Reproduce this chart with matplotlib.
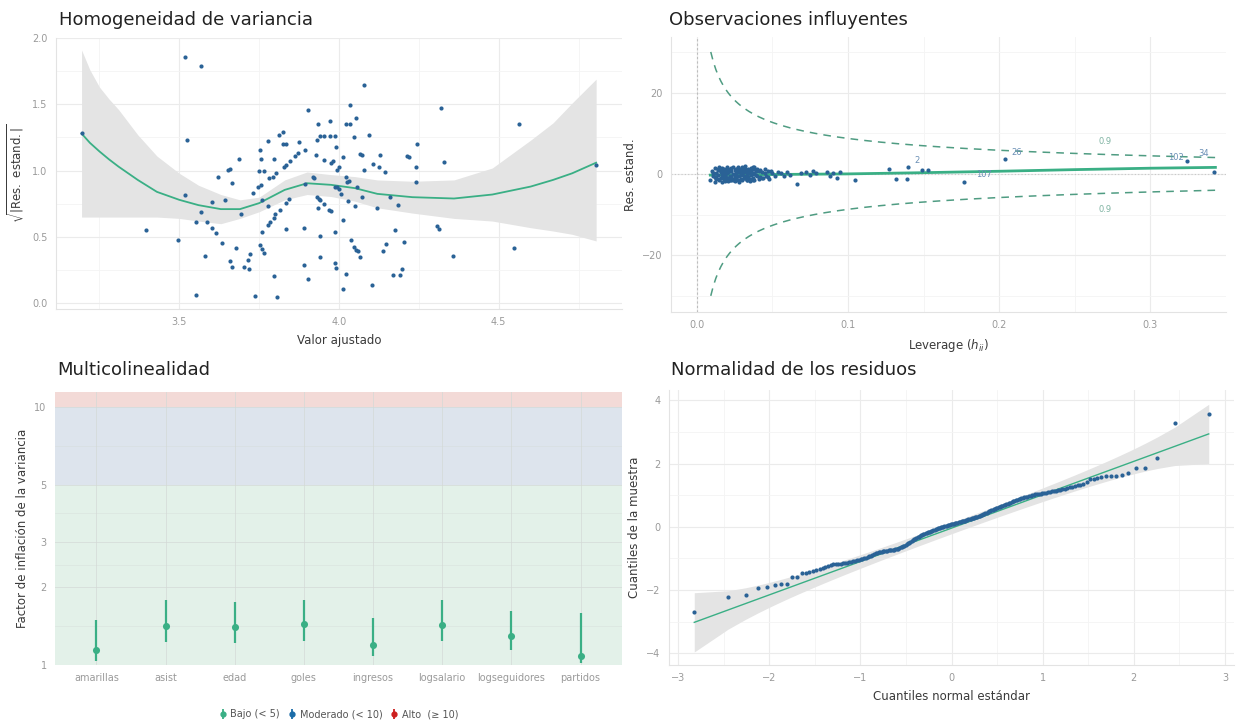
import numpy as np
import matplotlib
matplotlib.use('Agg')
import matplotlib.pyplot as plt
from statistics import NormalDist

W, H = 1236, 723
BLUE = '#2a6296'
GREEN = '#3aaf85'
TICK = '#9a9a9a'
LAB = '#3a3a3a'

# ---- panel 1: homogeneidad de varianza ----
fitted = [3.518, 3.567, 3.524, 3.752, 3.777, 3.812, 3.824, 3.826, 3.834, 3.876,
          3.756, 3.797, 3.686, 3.654, 3.660, 3.622, 3.665, 3.750, 3.766, 3.731,
          3.745, 3.755, 3.782, 3.793, 3.803, 3.827, 3.835, 3.846, 3.862, 3.872,
          3.518, 3.603, 3.644, 3.567, 3.553, 3.587, 3.603, 3.615, 3.633, 3.694,
          3.759, 3.777, 3.801, 3.795, 3.784, 3.778, 3.759, 3.833, 3.816, 3.833,
          3.844, 3.495, 3.580, 3.678, 3.720, 3.716, 3.660, 3.665, 3.702, 3.718,
          3.752, 3.759, 3.766, 3.796, 3.551, 3.736, 3.806,
          4.078, 3.904, 4.319, 4.033, 4.053, 4.023, 4.034, 3.934, 3.973, 3.941,
          3.952, 3.971, 3.989, 3.931, 4.047, 4.094, 3.894, 3.992, 4.245, 3.929,
          4.014, 4.067, 4.072, 4.129, 4.213, 4.220, 3.954, 3.976, 3.982, 3.994,
          4.000, 4.078, 4.107, 4.125, 4.144, 4.240, 4.329, 3.918, 3.923, 4.021,
          4.031, 4.024, 4.240, 3.894, 3.986, 3.994, 4.001, 4.056, 3.931, 3.936,
          3.941, 4.007, 4.071, 4.159, 3.933, 3.969, 3.976, 3.952, 4.029, 4.050,
          4.120, 4.184, 3.891, 4.014, 3.941, 3.987, 4.175, 4.307, 4.314, 4.039,
          4.048, 4.053, 4.058, 4.067, 4.139, 4.146, 4.202, 4.356, 3.941, 3.891,
          3.986, 3.990, 3.904, 4.021, 4.103, 4.012, 4.168, 4.191, 4.197,
          3.395, 3.194, 4.805, 4.565, 4.549]
sqrt_res = [1.855, 1.790, 1.230, 1.155, 1.225, 1.265, 1.290, 1.200, 1.200, 1.215,
            1.085, 1.090, 1.085, 1.005, 1.015, 0.950, 0.905, 0.995, 0.995, 0.835,
            0.880, 0.890, 0.945, 0.950, 0.985, 1.030, 1.040, 1.070, 1.110, 1.130,
            0.820, 0.760, 0.780, 0.690, 0.610, 0.615, 0.570, 0.530, 0.455, 0.670,
            0.775, 0.735, 0.670, 0.640, 0.610, 0.590, 0.535, 0.560, 0.705, 0.755,
            0.790, 0.480, 0.355, 0.418, 0.370, 0.330, 0.318, 0.275, 0.275, 0.255,
            0.440, 0.410, 0.378, 0.205, 0.063, 0.055, 0.050,
            1.643, 1.460, 1.470, 1.495, 1.395, 1.350, 1.350, 1.350, 1.375, 1.260,
            1.260, 1.260, 1.260, 1.230, 1.255, 1.265, 1.155, 1.180, 1.200, 1.120,
            1.100, 1.125, 1.115, 1.115, 1.110, 1.100, 1.080, 1.055, 1.070, 1.005,
            1.025, 1.005, 1.050, 1.025, 0.990, 1.025, 1.065, 0.955, 0.945, 0.955,
            0.925, 0.918, 0.915, 0.900, 0.880, 0.875, 0.860, 0.880, 0.805, 0.790,
            0.775, 0.825, 0.800, 0.805, 0.715, 0.705, 0.695, 0.750, 0.768, 0.730,
            0.718, 0.743, 0.568, 0.630, 0.510, 0.538, 0.550, 0.585, 0.560, 0.480,
            0.425, 0.405, 0.393, 0.348, 0.398, 0.450, 0.463, 0.360, 0.348, 0.290,
            0.305, 0.268, 0.180, 0.218, 0.135, 0.110, 0.210, 0.210, 0.255,
            0.553, 1.283, 1.044, 1.351, 0.415]
smooth_x = [3.194, 3.22, 3.25, 3.28, 3.31, 3.37, 3.43, 3.50, 3.56, 3.63, 3.69,
            3.75, 3.83, 3.90, 3.975, 4.05, 4.12, 4.23, 4.36, 4.48, 4.60, 4.67,
            4.73, 4.805]
smooth_y = [1.28, 1.21, 1.145, 1.085, 1.03, 0.93, 0.84, 0.78, 0.74, 0.71, 0.71,
            0.755, 0.855, 0.905, 0.893, 0.868, 0.825, 0.80, 0.79, 0.82, 0.88, 0.93,
            0.98, 1.06]
smooth_lo = [0.65, 0.65, 0.65, 0.65, 0.65, 0.65, 0.65, 0.64, 0.62, 0.60, 0.64,
             0.69, 0.78, 0.82, 0.805, 0.77, 0.72, 0.68, 0.64, 0.62, 0.57, 0.545,
             0.52, 0.47]
smooth_hi = [1.91, 1.76, 1.63, 1.54, 1.46, 1.27, 1.11, 0.98, 0.89, 0.82, 0.78,
             0.80, 0.93, 0.99, 0.97, 0.955, 0.93, 0.92, 0.93, 1.02, 1.23, 1.36,
             1.51, 1.69]

# ---- panel 2: observaciones influyentes ----
leverage = [0.009, 0.010, 0.011, 0.012, 0.012, 0.013, 0.013, 0.014, 0.014, 0.015,
            0.015, 0.016, 0.016, 0.017, 0.017, 0.018, 0.018, 0.018, 0.019, 0.019,
            0.020, 0.020, 0.020, 0.021, 0.021, 0.022, 0.022, 0.022, 0.023, 0.023,
            0.024, 0.024, 0.024, 0.025, 0.025, 0.026, 0.026, 0.026, 0.027, 0.027,
            0.028, 0.028, 0.028, 0.029, 0.029, 0.030, 0.030, 0.030, 0.031, 0.031,
            0.032, 0.032, 0.033, 0.033, 0.034, 0.034, 0.035, 0.035, 0.036, 0.036,
            0.037, 0.037, 0.038, 0.038, 0.039, 0.040, 0.040, 0.041, 0.042, 0.042,
            0.043, 0.044, 0.045, 0.046, 0.047, 0.048, 0.050, 0.052, 0.054, 0.056,
            0.058, 0.060, 0.062, 0.066, 0.069, 0.072, 0.075, 0.077, 0.079, 0.086,
            0.088, 0.090, 0.093, 0.095, 0.105,
            0.011, 0.012, 0.014, 0.015, 0.016, 0.017, 0.018, 0.019, 0.020, 0.021,
            0.022, 0.023, 0.024, 0.025, 0.026, 0.027, 0.028, 0.029, 0.030, 0.031,
            0.032, 0.033, 0.034, 0.035, 0.036, 0.037, 0.038, 0.039, 0.041, 0.043,
            0.045, 0.047, 0.049, 0.013, 0.017, 0.021, 0.025, 0.029, 0.033, 0.037,
            0.019, 0.023, 0.027, 0.031, 0.035, 0.015, 0.020, 0.026, 0.032, 0.038,
            0.127, 0.132, 0.139, 0.140, 0.149, 0.153, 0.177, 0.204, 0.324, 0.342]
std_res = [-1.5, 0.8, -0.6, 1.4, -1.9, 0.3, -1.2, 1.1, -0.2, 1.8,
           -1.6, 0.5, -0.9, 1.5, -2.0, 0.1, 1.2, -1.3, 0.7, -0.5,
           1.6, -1.1, 0.2, -1.8, 1.0, -0.4, 1.3, -1.5, 0.6, -0.8,
           1.7, -1.4, 0.0, 0.9, -1.7, 1.2, -0.3, -1.0, 1.5, 0.4,
           -1.9, 0.8, -0.6, 1.1, -1.2, 1.6, -0.1, -1.6, 0.5, 1.3,
           -0.9, 1.9, -1.4, 0.3, -0.7, 1.0, -1.8, 0.7, -0.2, 1.4,
           -1.1, 0.2, 1.7, -1.5, 0.6, -0.5, 1.2, -1.3, 0.9, -0.8,
           0.4, -1.0, 1.1, -0.4, 0.8, -1.2, 0.3, -0.6, 0.5, 0.2,
           -0.5, 0.4, -0.3, -2.5, 0.3, 0.5, -0.2, 0.6, 0.1, 0.4,
           -0.6, 0.2, -0.9, 0.5, -1.6,
           0.2, -0.7, 0.9, -1.3, 1.1, -0.1, 0.6, -1.7, 1.3, -0.9,
           0.7, 1.4, -1.2, -0.6, 0.4, -1.5, 1.0, -0.3, 0.9, -1.1,
           0.6, -0.4, 1.3, -1.3, 0.8, -1.6, 1.1, -0.2, 0.7, -0.9,
           0.3, -0.7, 0.6, -1.0, -0.4, 0.5, -1.2, 0.3, -1.6, 1.6,
           -0.3, -1.4, 1.8, -0.5, 0.2, 1.0, -0.9, -0.7, 1.2, 0.0,
           1.1, -1.15, -1.15, 1.8, 1.0, 1.0, -2.0, 3.6, 3.2, 0.4]
labels_h = [0.140, 0.204, 0.177, 0.324, 0.342]
labels_r = [1.8, 3.6, -2.0, 3.2, 0.4]
labels_txt = ['2', '26', '107', '102', '34']
labels_dx = [0.004, 0.004, 0.008, -0.012, -0.010]
labels_dy = [1.0, 1.0, 1.2, 0.2, 4.0]
lev_smooth_x = [0.009, 0.05, 0.10, 0.15, 0.20, 0.25, 0.30, 0.343]
lev_smooth_y = [-0.3, -0.15, 0.0, 0.3, 0.65, 1.05, 1.4, 1.6]
n_par = 9
cook_cut = 0.94

# ---- panel 3: multicolinealidad ----
terms = ['amarillas', 'asist', 'edad', 'goles', 'ingresos', 'logsalario',
         'logseguidores', 'partidos']
vif = [1.14, 1.42, 1.40, 1.44, 1.20, 1.43, 1.30, 1.08]
vif_lo = [1.04, 1.23, 1.22, 1.24, 1.08, 1.24, 1.14, 1.015]
vif_hi = [1.50, 1.78, 1.76, 1.79, 1.52, 1.78, 1.62, 1.59]

# ---- panel 4: normalidad (residuos ordenados) ----
resid_sorted = [
    -2.70, -2.22, -2.15, -1.94, -1.89, -1.85, -1.82, -1.80, -1.60, -1.58,
    -1.47, -1.45, -1.43, -1.40, -1.37, -1.32, -1.29, -1.26, -1.23, -1.21,
    -1.19, -1.18, -1.17, -1.16, -1.15, -1.14, -1.13, -1.12, -1.10, -1.08,
    -1.07, -1.06, -1.05, -1.03, -1.01, -0.99, -0.97, -0.95, -0.93, -0.91,
    -0.88, -0.86, -0.84, -0.82, -0.80, -0.79, -0.78, -0.77, -0.76, -0.755,
    -0.75, -0.745, -0.74, -0.735, -0.73, -0.72, -0.71, -0.70, -0.685, -0.67,
    -0.65, -0.63, -0.61, -0.59, -0.57, -0.54, -0.52, -0.50, -0.47, -0.44,
    -0.41, -0.39, -0.37, -0.35, -0.33, -0.31, -0.29, -0.27, -0.25, -0.23,
    -0.21, -0.20, -0.19, -0.17, -0.16, -0.15, -0.13, -0.12, -0.11, -0.10,
    -0.08, -0.07, -0.05, -0.04, -0.03, -0.02, -0.01, 0.00, 0.02, 0.03,
    0.04, 0.05, 0.06, 0.07, 0.08, 0.08, 0.09, 0.10, 0.11, 0.12,
    0.13, 0.14, 0.15, 0.16, 0.17, 0.18, 0.19, 0.20, 0.22, 0.23,
    0.24, 0.25, 0.26, 0.27, 0.28, 0.29, 0.30, 0.31, 0.32, 0.33,
    0.35, 0.36, 0.38, 0.40, 0.42, 0.43, 0.45, 0.47, 0.49, 0.51,
    0.53, 0.54, 0.56, 0.57, 0.59, 0.60, 0.62, 0.63, 0.65, 0.67,
    0.69, 0.70, 0.72, 0.73, 0.75, 0.77, 0.79, 0.81, 0.83, 0.85,
    0.86, 0.87, 0.89, 0.90, 0.92, 0.93, 0.95, 0.96, 0.98, 0.99,
    1.01, 1.02, 1.03, 1.04, 1.05, 1.05, 1.06, 1.07, 1.08, 1.10,
    1.11, 1.12, 1.13, 1.14, 1.16, 1.18, 1.20, 1.21, 1.23, 1.25,
    1.27, 1.29, 1.31, 1.33, 1.37, 1.43, 1.50, 1.53, 1.56,
    1.58, 1.60, 1.61, 1.62, 1.64, 1.70, 1.85, 1.86, 2.17, 3.28, 3.57]
qq_intercept = -0.04
qq_slope = 1.056

fig = plt.figure(figsize=(W / 100, H / 100), dpi=100)


def box(l, t, r, b):
    return [l / W, 1 - b / H, (r - l) / W, (b - t) / H]


def style(ax, xmaj, xmin, ymaj, ymin):
    for s in ['top', 'right']:
        ax.spines[s].set_visible(False)
    for s in ['left', 'bottom']:
        ax.spines[s].set_color('#e3e3e3')
        ax.spines[s].set_linewidth(0.8)
    ax.set_xticks(xmaj)
    ax.set_yticks(ymaj)
    ax.set_xticks(xmin, minor=True)
    ax.set_yticks(ymin, minor=True)
    ax.grid(True, which='major', color='#ebebeb', lw=0.8)
    ax.grid(True, which='minor', color='#f4f4f4', lw=0.6)
    ax.set_axisbelow(True)
    ax.tick_params(which='both', length=0, labelsize=7, colors=TICK, pad=6)
    for t in ax.get_xticklabels() + ax.get_yticklabels():
        t.set_family(['Liberation Sans Narrow', 'DejaVu Sans'])


def title(x, y, s):
    fig.text(x / W, 1 - y / H, s, fontsize=13, color='#222222', va='center',
             family='DejaVu Sans')


# panel 1
ax1 = fig.add_axes(box(56, 38, 622, 309))
ax1.fill_between(smooth_x, smooth_lo, smooth_hi, color='#e4e4e4', lw=0, zorder=1)
ax1.scatter(fitted, sqrt_res, s=9, color=BLUE, lw=0, zorder=3)
ax1.plot(smooth_x, smooth_y, color=GREEN, lw=1.3, zorder=2)
ax1.set_xlim(3.114, 4.886)
ax1.set_ylim(-0.043, 2.0)
style(ax1, [3.5, 4.0, 4.5], [3.25, 3.75, 4.25, 4.75],
      [0, 0.5, 1.0, 1.5, 2.0], [0.25, 0.75, 1.25, 1.75])
ax1.set_yticklabels(['0.0', '0.5', '1.0', '1.5', '2.0'])
ax1.set_xlabel('Valor ajustado', fontsize=8.5, color=LAB, labelpad=5)
ax1.set_ylabel(r'$\sqrt{|\mathrm{Res.\ estand.}|}$', fontsize=8.5, color=LAB)
title(59, 20, 'Homogeneidad de variancia')

# panel 2
ax2 = fig.add_axes(box(671, 37, 1226, 312))
ax2.axvline(0, color='#bdbdbd', lw=0.8, ls=(0, (2, 2)), zorder=1)
ax2.axhline(0, color='#c8c8c8', lw=0.8, ls=(0, (1, 2)), zorder=1)
hc = np.linspace(0.0093, 0.343, 200)
rc = np.sqrt(cook_cut * n_par * (1 - hc) / hc)
ax2.plot(hc, rc, color='#4f9c82', lw=1.1, ls=(0, (5, 4)), zorder=2)
ax2.plot(hc, -rc, color='#4f9c82', lw=1.1, ls=(0, (5, 4)), zorder=2)
ax2.text(0.27, 7.4, '0.9', fontsize=6, color='#7fb3a2', ha='center')
ax2.text(0.27, -9.3, '0.9', fontsize=6, color='#7fb3a2', ha='center')
ax2.plot(lev_smooth_x, lev_smooth_y, color=GREEN, lw=2.0, zorder=3)
ax2.scatter(leverage, std_res, s=9, color=BLUE, lw=0, zorder=4)
for h, r, t, dx, dy in zip(labels_h, labels_r, labels_txt, labels_dx, labels_dy):
    ax2.text(h + dx, r + dy, t, fontsize=6, color='#6a8fb5', ha='left')
ax2.set_xlim(-0.017, 0.35)
ax2.set_ylim(-34, 33.7)
style(ax2, [0.0, 0.1, 0.2, 0.3], [0.05, 0.15, 0.25, 0.35],
      [-20, 0, 20], [-30, -10, 10, 30])
ax2.set_xticklabels(['0.0', '0.1', '0.2', '0.3'])
ax2.set_xlabel(r'Leverage ($h_{ii}$)', fontsize=8.5, color=LAB, labelpad=5)
ax2.set_ylabel('Res. estand.', fontsize=8.5, color=LAB)
title(669, 20, 'Observaciones influyentes')

# panel 3
ax3 = fig.add_axes(box(55, 392, 622, 665))
ax3.set_yscale('log')
ax3.set_xlim(0.4, len(terms) + 0.6)
ax3.set_ylim(1, 11.43)
ax3.axhspan(1, 5, color='#e3f1e9', lw=0, zorder=0)
ax3.axhspan(5, 10, color='#dde4ed', lw=0, zorder=0)
ax3.axhspan(10, 11.43, color='#f3dad7', lw=0, zorder=0)
xs = np.arange(1, len(terms) + 1)
ax3.vlines(xs, vif_lo, vif_hi, color=GREEN, lw=1.6, zorder=3)
ax3.scatter(xs, vif, s=26, color=GREEN, lw=0, zorder=4)
ax3.set_xticks(xs)
ax3.set_xticklabels(terms)
ax3.set_yticks([1, 2, 3, 5, 10])
ax3.set_yticklabels(['1', '2', '3', '5', '10'])
ax3.set_yticks([1.414, 2.449, 3.873, 7.071], minor=True)
ax3.yaxis.set_minor_formatter(matplotlib.ticker.NullFormatter())
for s in ax3.spines.values():
    s.set_visible(False)
ax3.grid(True, which='major', color='#d3d9d6', lw=0.7, alpha=0.7)
ax3.grid(True, which='minor', axis='y', color='#d3d9d6', lw=0.5, alpha=0.5)
ax3.set_axisbelow(False)
ax3.tick_params(which='both', length=0, labelsize=7, colors=TICK, pad=6)
for t in ax3.get_xticklabels() + ax3.get_yticklabels():
    t.set_family(['Liberation Sans Narrow', 'DejaVu Sans'])
ax3.set_ylabel('Factor de inflación de la variancia', fontsize=8.5, color=LAB)
title(57, 370, 'Multicolinealidad')
handles = []
for c, lab in [(GREEN, 'Bajo (< 5)'), ('#1b6ca8', 'Moderado (< 10)'),
               ('#cd201f', 'Alto  (≥ 10)')]:
    hnd = ax3.errorbar([np.nan], [np.nan], yerr=[[0.1], [0.1]], fmt='o',
                       color=c, ms=3.5, elinewidth=1.3, label=lab)
    handles.append(hnd)
leg = ax3.legend(handles=handles, loc='upper center', bbox_to_anchor=(0.5, -0.13),
                 ncol=3, frameon=False, fontsize=7, handlelength=0.8,
                 handletextpad=0.4, columnspacing=0.8)
for t in leg.get_texts():
    t.set_color('#555555')

# panel 4
n = len(resid_sorted)
nd = NormalDist()
pp = np.array([(i + 0.5) / n for i in range(n)])
theo = np.array([nd.inv_cdf(p) for p in pp])
dens = np.array([nd.pdf(q) for q in theo])
line = qq_intercept + qq_slope * theo
se = qq_slope * np.sqrt(pp * (1 - pp) / n) / dens
ax4 = fig.add_axes(box(669, 390, 1234, 665))
ax4.fill_between(theo, line - 1.96 * se, line + 1.96 * se, color='#e4e4e4',
                 lw=0, zorder=1)
ax4.plot(theo, line, color=GREEN, lw=1.0, zorder=2)
ax4.scatter(theo, resid_sorted, s=9, color=BLUE, lw=0, zorder=3)
ax4.set_xlim(-3.1, 3.1)
ax4.set_ylim(-4.37, 4.33)
style(ax4, [-3, -2, -1, 0, 1, 2, 3], [-2.5, -1.5, -0.5, 0.5, 1.5, 2.5],
      [-4, -2, 0, 2, 4], [-3, -1, 1, 3])
ax4.set_xlabel('Cuantiles normal estándar', fontsize=8.5, color=LAB, labelpad=5)
ax4.set_ylabel('Cuantiles de la muestra', fontsize=8.5, color=LAB)
title(671, 370, 'Normalidad de los residuos')

fig.savefig('out.png', dpi=100, facecolor='white')
